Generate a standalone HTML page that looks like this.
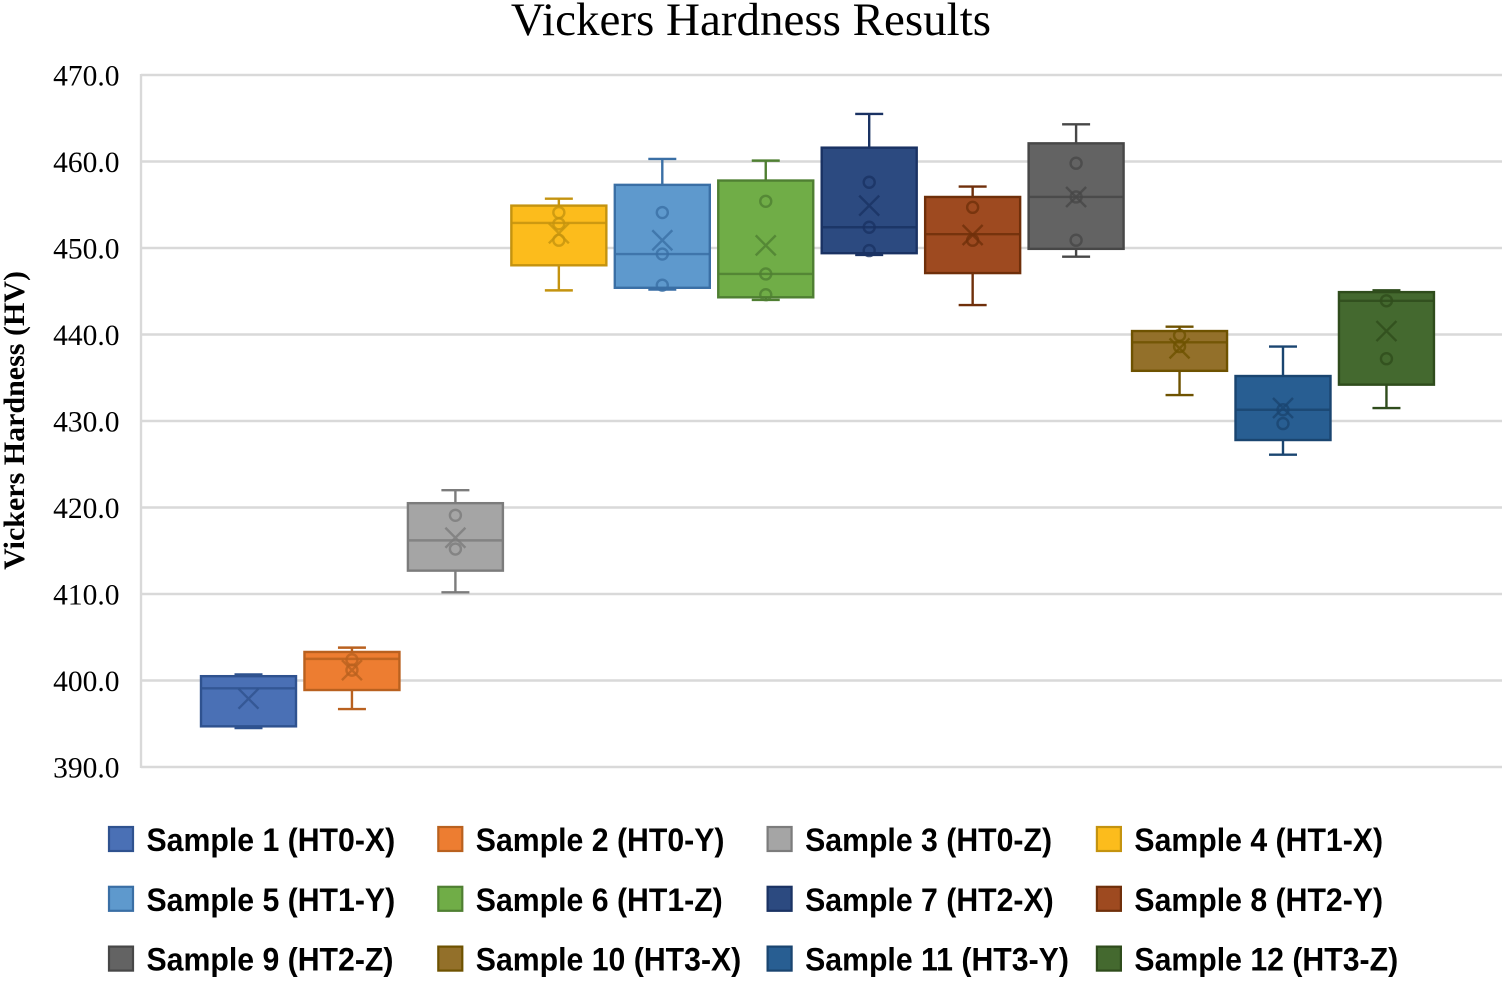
<!DOCTYPE html>
<html lang="en">
<head>
<meta charset="utf-8">
<title>Vickers Hardness Results</title>
<style>
html,body{margin:0;padding:0;background:#fff;width:1505px;height:982px;overflow:hidden}
svg{display:block}
text{fill:#000}
</style>
</head>
<body>
<svg id="chart" xmlns="http://www.w3.org/2000/svg" width="1505" height="982" viewBox="0 0 1505 982">
  <g id="grid"></g>
  <g id="ticks"></g>
  <g id="boxes"></g>
  <g id="legend"></g>
  <text x="751" y="35" text-anchor="middle" font-family="'Liberation Serif',serif" font-size="47">Vickers Hardness Results</text>
  <text transform="translate(24,420.5) rotate(-90)" text-anchor="middle" font-family="'Liberation Serif',serif" font-weight="bold" font-size="30">Vickers Hardness (HV)</text>
</svg>
<script>
const tickLabels = ["470.0","460.0","450.0","440.0","430.0","420.0","410.0","400.0","390.0"];
const tickValues = [470,460,450,440,430,420,410,400,390];
const categories = ["Sample 1 (HT0-X)","Sample 2 (HT0-Y)","Sample 3 (HT0-Z)","Sample 4 (HT1-X)","Sample 5 (HT1-Y)","Sample 6 (HT1-Z)","Sample 7 (HT2-X)","Sample 8 (HT2-Y)","Sample 9 (HT2-Z)","Sample 10 (HT3-X)","Sample 11 (HT3-Y)","Sample 12 (HT3-Z)"];
const whiskerLow  = [394.5,396.7,410.2,445.1,445.2,444.0,449.2,443.4,449.0,433.0,426.1,431.5];
const q1          = [394.7,398.9,412.7,448.0,445.4,444.3,449.4,447.1,449.9,435.8,427.8,434.2];
const medians     = [399.1,402.5,416.2,452.9,449.3,447.0,452.4,451.6,455.9,439.1,431.3,443.9];
const q3          = [400.5,403.3,420.5,454.9,457.3,457.8,461.6,455.9,462.1,440.4,435.2,444.9];
const whiskerHigh = [400.7,403.8,422.0,455.7,460.3,460.1,465.5,457.1,464.3,440.9,438.6,445.1];
const means       = [397.9,401.2,416.5,451.7,450.9,450.3,454.9,451.5,455.9,438.4,431.5,440.4];
const innerPoints = [[],[402.4,401.2],[419.1,415.2],[454.1,452.8,450.9],[454.1,449.3,445.7],[455.4,447.0,444.6],[457.6,452.4,449.7],[454.7,450.9],[459.8,455.9,450.9],[439.9,438.6],[431.3,429.7],[443.9,437.2]];
const fills   = ["#4a70b5","#ed7d31","#a5a5a5","#fcbc1c","#5e99cd","#70ad47","#2c4a80","#9e4a20","#636363","#93702a","#285e92","#44692f"];
const strokes = ["#2f528f","#b9611f","#7c7c7c","#c4930f","#3a6fa5","#4f7f32","#1a3263","#6f2f0a","#474747","#6e5200","#1a4570","#2f4c1c"];

const NS = "http://www.w3.org/2000/svg";
const plot = {left:141, right:1502, top:75, bottom:767, min:390, max:470};
const yScale = v => plot.top + (plot.max - v) * (plot.bottom - plot.top) / (plot.max - plot.min);
const xScale = i => 248.5 + i * 103.45;
const BOX_W = 95, CAP_W = 28, R = 5.5, XS = 10, SW = 2.4;

function make(tag, parent, attrs) {
  const el = document.createElementNS(NS, tag);
  for (const k in attrs) el.setAttribute(k, attrs[k]);
  parent.appendChild(el);
  return el;
}

const gridG = document.getElementById("grid");
const ticksG = document.getElementById("ticks");
const boxesG = document.getElementById("boxes");
const legendG = document.getElementById("legend");

const axisLine = make("line", gridG, {x1:plot.left, x2:plot.left, y1:plot.top-1, y2:plot.bottom+1, stroke:"#d9d9d9", "stroke-width":2.4});



tickValues.forEach((v, i) => {
  const line = make("line", gridG, {x1:plot.left, x2:plot.right, y1:yScale(v), y2:yScale(v), stroke:"#d9d9d9", "stroke-width":2.4});
  
  
  const label = make("text", ticksG, {x:119.5, y:yScale(v)+10.5, "text-anchor":"end", "font-family":"'Liberation Serif',serif", "font-size":29.5});
  label.textContent = tickLabels[i];
  
  
});

categories.forEach((name, i) => {
  const cx = xScale(i), col = strokes[i];
  const g = make("g", boxesG, {});
  
  

  const stem = make("path", g, {d:`M${cx} ${yScale(whiskerHigh[i])}V${yScale(whiskerLow[i])}M${cx-CAP_W/2} ${yScale(whiskerHigh[i])}h${CAP_W}M${cx-CAP_W/2} ${yScale(whiskerLow[i])}h${CAP_W}`, fill:"none", stroke:col, "stroke-width":SW});
  
  

  const rect = make("rect", g, {x:cx-BOX_W/2, y:yScale(q3[i]), width:BOX_W, height:yScale(q1[i])-yScale(q3[i]), fill:fills[i], stroke:col, "stroke-width":SW});
  
  

  const med = make("line", g, {x1:cx-BOX_W/2, x2:cx+BOX_W/2, y1:yScale(medians[i]), y2:yScale(medians[i]), stroke:col, "stroke-width":SW, "stroke-opacity":0.85});
  
  

  innerPoints[i].forEach(p => {
    const c = make("circle", g, {cx:cx, cy:yScale(p), r:R, fill:"none", stroke:col, "stroke-width":SW, "stroke-opacity":0.8});
    
    
  });

  const my = yScale(means[i]);
  const x = make("path", g, {d:`M${cx-XS} ${my-XS}L${cx+XS} ${my+XS}M${cx+XS} ${my-XS}L${cx-XS} ${my+XS}`, fill:"none", stroke:col, "stroke-width":SW, "stroke-opacity":0.8});
  
  

  const c4 = i % 4, r3 = Math.floor(i / 4);
  const lx = 109 + c4 * 329.3, ly = 827 + r3 * 59.8;
  const entry = make("g", legendG, {});
  
  
  const sw = make("rect", entry, {x:lx, y:ly, width:24, height:24, fill:fills[i], stroke:col, "stroke-width":2.2});
  
  
  const t = make("text", entry, {transform:`translate(${lx+37.5},${ly+24}) scale(0.945,1)`, "font-family":"'Liberation Sans',sans-serif", "font-weight":"bold", "font-size":32});
  t.textContent = name;
  
  
});
</script>
</body>
</html>
